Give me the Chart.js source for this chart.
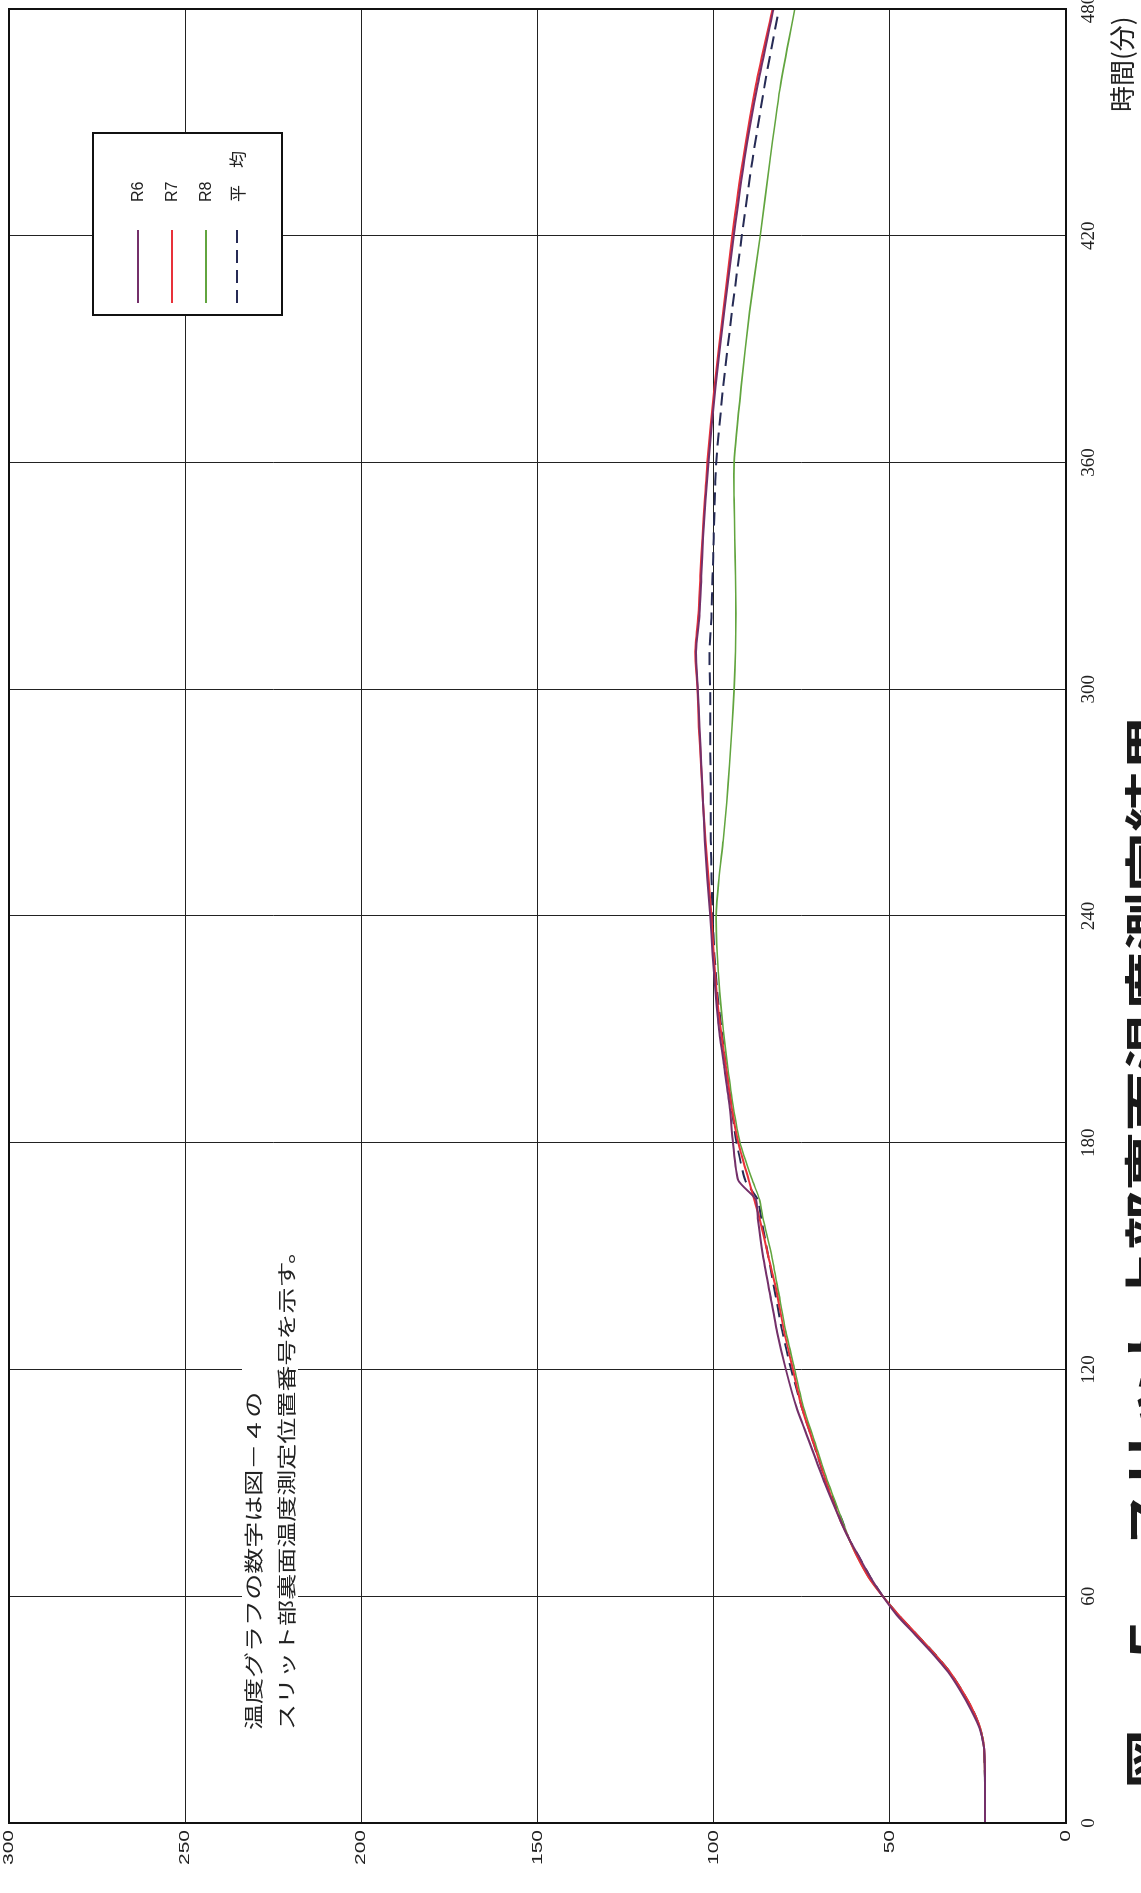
<!DOCTYPE html>
<html lang="ja">
<head>
<meta charset="UTF-8">
<title>スリット上部裏面温度測定結果</title>
<script src="https://cdn.jsdelivr.net/npm/chart.js"></script>
<style>
  html, body { margin: 0; padding: 0; background: #fff; overflow: hidden; }
  body { width: 1141px; height: 1893px; position: relative; }
  /* the sheet is drawn upright and turned a quarter turn, like the scanned page */
  #sheet {
    position: absolute; left: 0; top: 1893px;
    width: 1893px; height: 1141px;
    transform-origin: 0 0; transform: rotate(-90deg);
  }
</style>
</head>
<body>

<div id="sheet"><canvas id="chart" width="1893" height="1141"></canvas></div>

<script>
// time (min) and back-face temperature (°C)
const minutes = [0, 10, 20, 25, 30, 35, 40, 45, 50, 55, 60, 65, 70, 75, 80, 90, 100, 110, 120, 130, 140, 150, 160, 165, 170, 180, 190, 200, 210, 220, 230, 240, 250, 260, 270, 280, 290, 300, 310, 320, 330, 340, 350, 360, 380, 400, 420, 440, 460, 480];
const r6  = [23, 23, 23.3, 24.5, 27, 30, 33.5, 38, 43, 48, 52, 55.5, 58.5, 61.5, 64, 68.5, 72.5, 76.5, 79.5, 82, 84, 86, 87.5, 88, 93, 94.5, 95.5, 97, 98.5, 99.5, 100.3, 101, 101.8, 102.5, 103, 103.5, 104, 104.5, 105, 104, 103.5, 103, 102.3, 101.5, 99.5, 97, 94.3, 91.3, 87.5, 83];
const r7  = [23, 23, 23.3, 24.3, 26.5, 29.5, 33, 37.5, 42.5, 47.5, 52, 56, 59, 61.5, 64, 68, 71.5, 75, 77.5, 80, 82, 84.5, 87, 88.5, 90, 93, 95, 96.5, 98, 99.2, 100, 100.6, 101.5, 102.3, 103, 103.6, 104.2, 104.6, 105.2, 104.3, 103.8, 103.2, 102.5, 101.8, 99.8, 97.3, 94.7, 91.7, 88, 83.3];
const r8  = [23, 23, 23.3, 24.3, 26.5, 29.5, 33, 37.5, 42.5, 47.5, 52, 56, 59, 61.5, 63.5, 67.5, 71, 74.5, 77, 79.5, 81.5, 83.5, 86, 87, 89, 92.5, 94.5, 96, 97.3, 98.3, 99, 99.3, 98.5, 97.3, 96.3, 95.5, 94.8, 94.2, 93.8, 93.7, 93.8, 94, 94.2, 94.2, 92.2, 89.8, 86.8, 84, 81, 77];
const avg = [23, 23, 23.3, 24.3, 26.5, 29.5, 33, 37.5, 42.5, 47.5, 52, 55.5, 58.5, 61.5, 63.5, 68, 71.5, 75, 78, 80.5, 82.5, 84.5, 86.5, 87.5, 91, 93.5, 95, 96.5, 97.8, 99, 99.8, 100.3, 100.6, 100.8, 100.8, 100.9, 101, 101, 101.2, 100.6, 100.3, 100, 99.7, 99.3, 97.3, 94.8, 92, 89, 85.5, 81.5];

const seriesLabels = ['R6', 'R7', 'R8', '平　均'];
const timeTicks = [0, 60, 120, 180, 240, 300, 360, 420, 480];
const tempTicks = [0, 50, 100, 150, 200, 250, 300];

const axisTitle = '時間(分)';
const noteLines = ['温度グラフの数字は図－４の', 'スリット部裏面温度測定位置番号を示す。'];
const caption = '図－５　スリット上部裏面温度測定結果';

const JP = '"Noto Sans CJK JP", sans-serif';

function pts(vals) {
  return minutes.map((m, i) => ({ x: m, y: vals[i] }));
}

// text stretched along its own direction, like the scan
function wideText(ctx, txt, x, y, sx, align) {
  ctx.save();
  ctx.translate(x, y);
  ctx.scale(sx, 1);
  ctx.textAlign = align || 'left';
  ctx.fillText(txt, 0, 0);
  ctx.restore();
}

const paper = {
  id: 'paper',
  beforeDraw(chart) {
    const ctx = chart.ctx;
    ctx.save();
    ctx.fillStyle = '#fff';
    ctx.fillRect(0, 0, chart.width, chart.height);
    ctx.restore();
  },
  afterDraw(chart) {
    const ctx = chart.ctx;
    const a = chart.chartArea;
    const ys = chart.scales.y;
    ctx.save();

    // frame
    ctx.strokeStyle = '#111';
    ctx.lineWidth = 2;
    ctx.strokeRect(a.left, a.top, a.right - a.left, a.bottom - a.top);

    // temperature labels
    ctx.fillStyle = '#222';
    ctx.font = '15px "Liberation Sans", Arial, sans-serif';
    ctx.textBaseline = 'middle';
    tempTicks.forEach(v => {
      wideText(ctx, String(v), a.left - 7, ys.getPixelForValue(v), 1.4, 'right');
    });

    // axis title
    ctx.font = '26px ' + JP;
    ctx.fillText(axisTitle, 1781, 1122);

    // note
    ctx.fillStyle = '#fff';
    ctx.fillRect(158, 242, 505, 56);
    ctx.fillStyle = '#222';
    ctx.font = '19px ' + JP;
    noteLines.forEach((t, i) => wideText(ctx, t, 163, 254 + i * 33, 1.37));

    // legend
    const lx = 1578, ly = 93, lw = 182, lh = 189;
    ctx.fillStyle = '#fff';
    ctx.fillRect(lx, ly, lw, lh);
    ctx.strokeStyle = '#111';
    ctx.lineWidth = 2;
    ctx.strokeRect(lx, ly, lw, lh);
    const rows = [138, 172, 206, 237];
    chart.data.datasets.forEach((ds, i) => {
      ctx.strokeStyle = ds.borderColor;
      ctx.lineWidth = 2;
      ctx.setLineDash(ds.borderDash || []);
      ctx.beginPath();
      ctx.moveTo(1590, rows[i]);
      ctx.lineTo(1663, rows[i]);
      ctx.stroke();
      ctx.setLineDash([]);
      ctx.fillStyle = '#222';
      ctx.font = i < 3 ? '16px "Liberation Sans", sans-serif' : '17px ' + JP;
      ctx.textAlign = 'left';
      ctx.fillText(ds.label, 1691, rows[i] + 1);
    });

    // caption, running off the page edge
    ctx.fillStyle = '#1a1a1a';
    ctx.font = 'bold 46px ' + JP;
    wideText(ctx, caption, 104, 1147, 1.3);

    ctx.restore();
  }
};

new Chart(document.getElementById('chart'), {
  type: 'line',
  data: {
    datasets: [
      { label: seriesLabels[0], data: pts(r6),  borderColor: '#74306a', borderWidth: 2 },
      { label: seriesLabels[1], data: pts(r7),  borderColor: '#e8313a', borderWidth: 2 },
      { label: seriesLabels[2], data: pts(r8),  borderColor: '#62a53f', borderWidth: 1.6 },
      { label: seriesLabels[3], data: pts(avg), borderColor: '#262b55', borderWidth: 2, borderDash: [13, 7] }
    ]
  },
  options: {
    responsive: false,
    animation: false,
    devicePixelRatio: 1,
    layout: { padding: { top: 9, right: 9, bottom: 0, left: 0 } },
    elements: { point: { radius: 0 }, line: { tension: 0.2 } },
    plugins: { legend: { display: false }, tooltip: { enabled: false } },
    scales: {
      x: {
        type: 'linear', min: 0, max: 480,
        afterBuildTicks: s => { s.ticks = timeTicks.map(v => ({ value: v })); },
        afterFit: s => { s.height = 75; s.paddingLeft = 0; s.paddingRight = 0; },
        ticks: {
          autoSkip: false, maxRotation: 0, padding: 12, color: '#222',
          font: { family: '"Liberation Serif", serif', size: 19 }
        },
        grid: { color: '#222', lineWidth: 1, drawTicks: false },
        border: { display: false }
      },
      y: {
        type: 'linear', min: 0, max: 300,
        afterBuildTicks: s => { s.ticks = tempTicks.map(v => ({ value: v })); },
        afterFit: s => { s.width = 70; s.paddingTop = 0; s.paddingBottom = 0; },
        ticks: { display: false },
        grid: { color: '#222', lineWidth: 1, drawTicks: false },
        border: { display: false }
      }
    }
  },
  plugins: [paper]
});
</script>
</body>
</html>
